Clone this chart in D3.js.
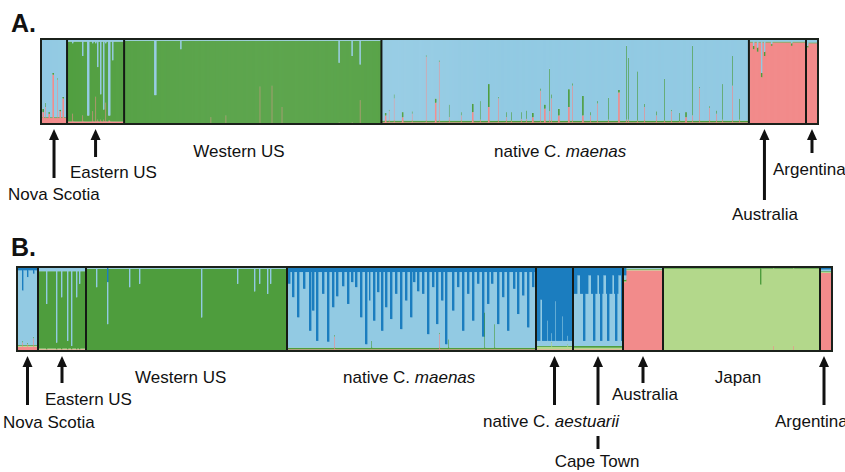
<!DOCTYPE html>
<html>
<head>
<meta charset="utf-8">
<script src="https://cdn.jsdelivr.net/npm/d3@7"></script>
<style>
body { margin: 0; background: #fff; }
svg text { font-family: "Liberation Sans", Arial, sans-serif; fill: #111; }
</style>
</head>
<body>
<div id="chart"></div>
<script>
// ---- Panel A: K = 3, clusters stacked bottom -> top
var clustersA = ["pink", "green", "lblue"];
var groupsA = ["Nova Scotia", "Eastern US", "Western US", "native C. maenas", "Australia", "Argentina"];
var countsA = [26, 57, 257, 367, 57, 12];
var baseA = [
    [0.07, 0.01, 0.92],
    [0.03, 0.94, 0.03],
    [0.01, 0.97, 0.02],
    [0.02, 0.02, 0.96],
    [0.96, 0.01, 0.03],
    [0.95, 0.01, 0.04]
];
// [group, individual, run length, membership]
var spikesA = [
    ["Nova Scotia", 1, 2, [0.14, 0.04, 0.82]],
    ["Nova Scotia", 4, 1, [0.20, 0.05, 0.75]],
    ["Nova Scotia", 7, 2, [0.12, 0.02, 0.86]],
    ["Nova Scotia", 11, 2, [0.58, 0.02, 0.40]],
    ["Nova Scotia", 16, 1, [0.52, 0.02, 0.46]],
    ["Nova Scotia", 18, 2, [0.15, 0.02, 0.83]],
    ["Nova Scotia", 21, 2, [0.30, 0.02, 0.68]],
    ["Eastern US", 5, 1, [0.12, 0.83, 0.05]],
    ["Eastern US", 15, 1, [0.10, 0.70, 0.20]],
    ["Eastern US", 20, 2, [0.03, 0.07, 0.90]],
    ["Eastern US", 25, 1, [0.15, 0.80, 0.05]],
    ["Eastern US", 28, 1, [0.32, 0.63, 0.05]],
    ["Eastern US", 30, 1, [0.05, 0.62, 0.33]],
    ["Eastern US", 33, 1, [0.05, 0.30, 0.65]],
    ["Eastern US", 36, 1, [0.05, 0.12, 0.83]],
    ["Eastern US", 38, 1, [0.25, 0.70, 0.05]],
    ["Eastern US", 41, 2, [0.04, 0.06, 0.90]],
    ["Eastern US", 45, 1, [0.03, 0.72, 0.25]],
    ["Western US", 30, 2, [0.01, 0.33, 0.66]],
    ["Western US", 56, 1, [0.01, 0.87, 0.12]],
    ["Western US", 86, 1, [0.08, 0.90, 0.02]],
    ["Western US", 101, 1, [0.10, 0.88, 0.02]],
    ["Western US", 135, 1, [0.44, 0.54, 0.02]],
    ["Western US", 147, 1, [0.45, 0.53, 0.02]],
    ["Western US", 157, 1, [0.20, 0.78, 0.02]],
    ["Western US", 214, 1, [0.02, 0.70, 0.28]],
    ["Western US", 227, 1, [0.02, 0.78, 0.20]],
    ["Western US", 235, 1, [0.28, 0.42, 0.30]],
    ["native C. maenas", 3, 2, [0.10, 0.03, 0.87]],
    ["native C. maenas", 7, 1, [0.15, 0.02, 0.83]],
    ["native C. maenas", 12, 1, [0.30, 0.05, 0.65]],
    ["native C. maenas", 20, 2, [0.08, 0.06, 0.86]],
    ["native C. maenas", 30, 1, [0.12, 0.03, 0.85]],
    ["native C. maenas", 44, 1, [0.79, 0.02, 0.19]],
    ["native C. maenas", 53, 2, [0.25, 0.05, 0.70]],
    ["native C. maenas", 57, 1, [0.73, 0.02, 0.25]],
    ["native C. maenas", 67, 1, [0.08, 0.15, 0.77]],
    ["native C. maenas", 79, 1, [0.10, 0.04, 0.86]],
    ["native C. maenas", 90, 2, [0.14, 0.10, 0.76]],
    ["native C. maenas", 98, 1, [0.05, 0.22, 0.73]],
    ["native C. maenas", 106, 2, [0.20, 0.27, 0.53]],
    ["native C. maenas", 116, 1, [0.30, 0.02, 0.68]],
    ["native C. maenas", 124, 1, [0.08, 0.06, 0.86]],
    ["native C. maenas", 129, 1, [0.04, 0.10, 0.86]],
    ["native C. maenas", 139, 1, [0.06, 0.08, 0.86]],
    ["native C. maenas", 144, 1, [0.06, 0.10, 0.84]],
    ["native C. maenas", 150, 2, [0.08, 0.05, 0.87]],
    ["native C. maenas", 158, 1, [0.39, 0.03, 0.58]],
    ["native C. maenas", 162, 2, [0.18, 0.05, 0.77]],
    ["native C. maenas", 167, 1, [0.15, 0.50, 0.35]],
    ["native C. maenas", 169, 1, [0.30, 0.05, 0.65]],
    ["native C. maenas", 176, 2, [0.10, 0.08, 0.82]],
    ["native C. maenas", 186, 2, [0.20, 0.21, 0.59]],
    ["native C. maenas", 190, 1, [0.45, 0.03, 0.52]],
    ["native C. maenas", 200, 2, [0.10, 0.23, 0.67]],
    ["native C. maenas", 208, 1, [0.10, 0.04, 0.86]],
    ["native C. maenas", 215, 1, [0.24, 0.03, 0.73]],
    ["native C. maenas", 226, 1, [0.05, 0.26, 0.69]],
    ["native C. maenas", 236, 2, [0.37, 0.03, 0.60]],
    ["native C. maenas", 244, 1, [0.05, 0.87, 0.08]],
    ["native C. maenas", 246, 1, [0.05, 0.73, 0.22]],
    ["native C. maenas", 255, 1, [0.04, 0.58, 0.38]],
    ["native C. maenas", 262, 1, [0.20, 0.04, 0.76]],
    ["native C. maenas", 274, 1, [0.10, 0.05, 0.85]],
    ["native C. maenas", 282, 1, [0.04, 0.49, 0.47]],
    ["native C. maenas", 289, 1, [0.15, 0.02, 0.83]],
    ["native C. maenas", 297, 1, [0.03, 0.10, 0.87]],
    ["native C. maenas", 303, 2, [0.08, 0.06, 0.86]],
    ["native C. maenas", 310, 1, [0.10, 0.82, 0.08]],
    ["native C. maenas", 317, 1, [0.42, 0.02, 0.56]],
    ["native C. maenas", 327, 1, [0.19, 0.02, 0.79]],
    ["native C. maenas", 334, 1, [0.12, 0.04, 0.84]],
    ["native C. maenas", 340, 1, [0.05, 0.42, 0.53]],
    ["native C. maenas", 350, 1, [0.45, 0.35, 0.20]],
    ["native C. maenas", 357, 1, [0.05, 0.25, 0.70]],
    ["Australia", 4, 1, [0.88, 0.04, 0.08]],
    ["Australia", 8, 1, [0.85, 0.05, 0.10]],
    ["Australia", 12, 1, [0.55, 0.05, 0.40]],
    ["Australia", 15, 1, [0.80, 0.05, 0.15]],
    ["Australia", 22, 1, [0.92, 0.02, 0.06]],
    ["Australia", 42, 1, [0.92, 0.03, 0.05]],
    ["Argentina", 1, 1, [0.90, 0.02, 0.08]]
];

// ---- Panel B: K = 5, clusters stacked bottom -> top
var clustersB = ["pink", "lgreen", "green", "lblue", "dblue"];
var groupsB = ["Nova Scotia", "Eastern US", "Western US", "native C. maenas", "native C. aestuarii",
    "Cape Town", "Australia", "Japan", "Argentina"];
var countsB = [21, 48, 201, 249, 37, 50, 40, 157, 12];
var baseB = [
    [0.05, 0.01, 0.01, 0.89, 0.04],
    [0.02, 0.01, 0.92, 0.05, 0.00],
    [0.01, 0.00, 0.97, 0.02, 0.00],
    [0.02, 0.00, 0.02, 0.90, 0.06],
    [0.02, 0.03, 0.01, 0.06, 0.88],
    [0.02, 0.02, 0.02, 0.62, 0.32],
    [0.96, 0.01, 0.01, 0.01, 0.01],
    [0.01, 0.97, 0.01, 0.01, 0.00],
    [0.93, 0.01, 0.01, 0.02, 0.03]
];
// dark-blue depth of the native C. maenas individuals: [individual, run length, share]
var maenasDarkB = [
    [1, 2, 0.20], [5, 2, 0.36], [10, 2, 0.60], [16, 2, 0.26], [22, 2, 0.76], [25, 2, 0.52],
    [29, 2, 0.88], [35, 2, 0.32], [40, 2, 0.89], [45, 2, 0.48], [49, 2, 0.35], [55, 2, 0.23],
    [60, 2, 0.44], [64, 2, 0.18], [68, 2, 0.24], [73, 2, 0.60], [78, 2, 0.92], [82, 1, 0.40],
    [86, 2, 0.64], [90, 2, 0.30], [94, 2, 0.76], [98, 2, 0.48], [103, 2, 0.62], [108, 2, 0.32],
    [113, 2, 0.74], [118, 2, 0.40], [123, 2, 0.60], [126, 2, 0.18], [130, 2, 0.29], [135, 2, 0.32],
    [140, 2, 0.80], [145, 2, 0.24], [149, 2, 0.68], [154, 2, 0.40], [158, 2, 0.92], [165, 2, 0.52],
    [170, 2, 0.24], [175, 2, 0.76], [180, 2, 0.32], [185, 2, 0.64], [190, 2, 0.20], [195, 2, 0.83],
    [200, 2, 0.44], [204, 2, 0.20], [210, 2, 0.68], [215, 2, 0.36], [220, 2, 0.76], [226, 2, 0.26],
    [230, 2, 0.56], [235, 2, 0.34], [240, 2, 0.72], [245, 2, 0.24]
];
var spikesB = [
    ["Nova Scotia", 5, 1, [0.10, 0.00, 0.02, 0.60, 0.28]],
    ["Nova Scotia", 10, 1, [0.08, 0.00, 0.02, 0.78, 0.12]],
    ["Nova Scotia", 16, 1, [0.15, 0.00, 0.02, 0.75, 0.08]],
    ["Eastern US", 8, 1, [0.02, 0.00, 0.54, 0.44, 0.00]],
    ["Eastern US", 18, 1, [0.02, 0.00, 0.08, 0.90, 0.00]],
    ["Eastern US", 23, 1, [0.02, 0.00, 0.62, 0.36, 0.00]],
    ["Eastern US", 29, 1, [0.02, 0.00, 0.10, 0.88, 0.00]],
    ["Eastern US", 33, 1, [0.02, 0.00, 0.04, 0.94, 0.00]],
    ["Eastern US", 38, 1, [0.02, 0.00, 0.62, 0.36, 0.00]],
    ["Eastern US", 41, 1, [0.02, 0.00, 0.78, 0.20, 0.00]],
    ["Western US", 10, 1, [0.01, 0.00, 0.75, 0.24, 0.00]],
    ["Western US", 21, 1, [0.01, 0.00, 0.31, 0.50, 0.18]],
    ["Western US", 43, 1, [0.01, 0.00, 0.75, 0.24, 0.00]],
    ["Western US", 53, 1, [0.01, 0.00, 0.79, 0.20, 0.00]],
    ["Western US", 115, 1, [0.01, 0.00, 0.39, 0.60, 0.00]],
    ["Western US", 151, 1, [0.01, 0.00, 0.79, 0.20, 0.00]],
    ["Western US", 168, 1, [0.01, 0.00, 0.70, 0.29, 0.00]],
    ["Western US", 173, 1, [0.01, 0.00, 0.79, 0.20, 0.00]],
    ["Western US", 181, 1, [0.01, 0.00, 0.67, 0.32, 0.00]],
    ["Western US", 184, 1, [0.01, 0.00, 0.79, 0.20, 0.00]],
    ["native C. maenas", 47, 1, [0.17, 0.00, 0.02, 0.75, 0.06]],
    ["native C. maenas", 84, 1, [0.02, 0.00, 0.10, 0.82, 0.06]],
    ["native C. maenas", 152, 1, [0.20, 0.00, 0.02, 0.72, 0.06]],
    ["native C. maenas", 161, 1, [0.02, 0.00, 0.12, 0.80, 0.06]],
    ["native C. maenas", 197, 1, [0.02, 0.00, 0.44, 0.48, 0.06]],
    ["native C. maenas", 207, 1, [0.02, 0.00, 0.30, 0.62, 0.06]],
    ["native C. aestuarii", 4, 2, [0.02, 0.03, 0.01, 0.55, 0.39]],
    ["native C. aestuarii", 11, 1, [0.02, 0.03, 0.01, 0.30, 0.64]],
    ["native C. aestuarii", 15, 1, [0.02, 0.08, 0.01, 0.10, 0.79]],
    ["native C. aestuarii", 19, 1, [0.02, 0.03, 0.01, 0.53, 0.41]],
    ["native C. aestuarii", 26, 1, [0.02, 0.03, 0.01, 0.35, 0.59]],
    ["native C. aestuarii", 31, 1, [0.02, 0.05, 0.01, 0.10, 0.82]],
    ["Cape Town", 4, 3, [0.02, 0.02, 0.02, 0.84, 0.10]],
    ["Cape Town", 10, 2, [0.02, 0.02, 0.02, 0.06, 0.88]],
    ["Cape Town", 15, 3, [0.02, 0.02, 0.02, 0.84, 0.10]],
    ["Cape Town", 20, 2, [0.02, 0.02, 0.02, 0.06, 0.88]],
    ["Cape Town", 24, 2, [0.02, 0.02, 0.02, 0.84, 0.10]],
    ["Cape Town", 27, 2, [0.02, 0.02, 0.02, 0.06, 0.88]],
    ["Cape Town", 30, 3, [0.02, 0.02, 0.02, 0.84, 0.10]],
    ["Cape Town", 34, 2, [0.02, 0.02, 0.02, 0.06, 0.88]],
    ["Cape Town", 39, 2, [0.02, 0.02, 0.02, 0.84, 0.10]],
    ["Cape Town", 42, 2, [0.02, 0.02, 0.02, 0.06, 0.88]],
    ["Cape Town", 45, 3, [0.02, 0.02, 0.02, 0.84, 0.10]],
    ["Cape Town", 48, 2, [0.02, 0.02, 0.02, 0.06, 0.88]],
    ["Australia", 0, 3, [0.82, 0.01, 0.02, 0.05, 0.10]],
    ["Japan", 97, 1, [0.01, 0.78, 0.20, 0.01, 0.00]],
    ["Japan", 110, 1, [0.06, 0.93, 0.00, 0.01, 0.00]],
    ["Japan", 130, 1, [0.06, 0.93, 0.00, 0.01, 0.00]]
];

var color = {
    pink: "#f28b8b", green: "#4e9d3d", lblue: "#92cae3",
    dblue: "#1b7dbf", lgreen: "#b3d88b"
};

var svg = d3.select("#chart")
    .append("svg")
    .attr("width", 845)
    .attr("height", 472);

var buildRows = function (clusters, groups, counts, base, spikes) {
    var rows = [], offsets = {}, acc = 0;
    groups.forEach(function (g, gi) {
        offsets[g] = acc;
        for (var i = 0; i < counts[gi]; i++) {
            var row = { n: acc + i, group: g };
            clusters.forEach(function (c, ci) { row[c] = base[gi][ci]; });
            rows.push(row);
        }
        acc += counts[gi];
    });
    spikes.forEach(function (s) {
        for (var k = 0; k < s[2]; k++) {
            var row = rows[offsets[s[0]] + s[1] + k];
            clusters.forEach(function (c, ci) { row[c] = s[3][ci]; });
        }
    });
    return { rows: rows, offsets: offsets };
};

var drawPanel = function (p) {
    var built = buildRows(p.clusters, p.groups, p.counts, p.base, p.spikes);
    var rows = built.rows;

    var x = d3.scaleBand().domain(rows.map(function (d) { return d.n; }))
        .range([p.x0, p.x1]).padding(0);
    var y = d3.scaleLinear().domain([0, 1]).range([p.y1, p.y0]);

    var series = d3.stack().keys(p.clusters)(rows);
    var top = p.clusters[p.clusters.length - 1];

    svg.append("clipPath").attr("id", p.id)
        .append("rect")
        .attr("x", p.x0).attr("y", p.y0)
        .attr("width", p.x1 - p.x0).attr("height", p.y1 - p.y0);

    var g = svg.append("g").attr("clip-path", "url(#" + p.id + ")");

    series.forEach(function (layer) {
        g.selectAll(null)
            .data(layer)
            .enter().append("rect")
            .attr("x", function (d) { return x(d.data.n); })
            .attr("width", x.bandwidth() + 0.4)
            .attr("y", function (d) { return layer.key === top ? y(1) : y(d[1]); })
            .attr("height", function (d) {
                return (layer.key === top ? y(d[0]) - y(1) : y(d[0]) - y(d[1]));
            })
            .attr("fill", color[layer.key]);
    });

    // group separators
    p.groups.slice(1).forEach(function (grp) {
        var xs = x(built.offsets[grp]);
        svg.append("line")
            .attr("x1", xs).attr("x2", xs)
            .attr("y1", p.y0).attr("y2", p.y1)
            .attr("stroke", "#151a15").attr("stroke-width", 2);
    });

    svg.append("rect")
        .attr("x", p.x0).attr("y", p.y0)
        .attr("width", p.x1 - p.x0).attr("height", p.y1 - p.y0)
        .attr("fill", "none")
        .attr("stroke", "#1b211b").attr("stroke-width", 2);

    return { x: x, offsets: built.offsets, counts: p.counts, groups: p.groups };
};

var centre = function (panel, grp) {
    var gi = panel.groups.indexOf(grp);
    var a = panel.x(panel.offsets[grp]);
    var b = a + panel.counts[gi] * panel.x.bandwidth();
    return (a + b) / 2;
};

var arrow = function (xa, y0, y1) {
    svg.append("line")
        .attr("x1", xa).attr("x2", xa)
        .attr("y1", y0 + 8).attr("y2", y1)
        .attr("stroke", "#111").attr("stroke-width", 3);
    svg.append("path")
        .attr("d", "M" + xa + "," + y0 + "L" + (xa - 5) + "," + (y0 + 11) + "L" + (xa + 5) + "," + (y0 + 11) + "Z")
        .attr("fill", "#111");
};

var label = function (txt, xl, yl, anchor, italicPart) {
    var t = svg.append("text")
        .attr("x", xl).attr("y", yl)
        .attr("text-anchor", anchor)
        .style("font-size", "17px");
    if (italicPart) {
        t.append("tspan").text(txt);
        t.append("tspan").style("font-style", "italic").text(italicPart);
    } else {
        t.text(txt);
    }
};

// ---- Panel A
var pA = drawPanel({
    id: "clipA", clusters: clustersA, groups: groupsA, counts: countsA,
    base: baseA, spikes: spikesA, x0: 41, x1: 818, y0: 39, y1: 124
});

svg.append("text").attr("x", 11).attr("y", 32)
    .style("font-size", "25px").style("font-weight", "bold").text("A.");

arrow(centre(pA, "Nova Scotia"), 129, 178);
label("Nova Scotia", 8, 200, "start");
arrow(centre(pA, "Eastern US"), 129, 157);
label("Eastern US", 70, 178, "start");
label("Western US", 239, 157, "middle");
label("native C. ", 494, 157, "start", "maenas");
arrow(centre(pA, "Australia") - 13, 129, 200);
label("Australia", 765, 220, "middle");
arrow(centre(pA, "Argentina"), 129, 153);
label("Argentina", 773, 175, "start");

// ---- Panel B
var pB = drawPanel({
    id: "clipB", clusters: clustersB, groups: groupsB, counts: countsB,
    base: baseB,
    spikes: maenasDarkB.map(function (d) {
        return ["native C. maenas", d[0], d[1], [0.02, 0.00, 0.02, 0.96 - d[2], d[2]]];
    }).concat(spikesB),
    x0: 17, x1: 832, y0: 267, y1: 351
});

svg.append("text").attr("x", 11).attr("y", 256)
    .style("font-size", "25px").style("font-weight", "bold").text("B.");

arrow(centre(pB, "Nova Scotia"), 356, 405);
label("Nova Scotia", 3, 428, "start");
arrow(centre(pB, "Eastern US"), 356, 383);
label("Eastern US", 45, 405, "start");
label("Western US", 135, 383, "start");
label("native C. ", 343, 383, "start", "maenas");
arrow(centre(pB, "native C. aestuarii"), 356, 405);
label("native C. ", 483, 427, "start", "aestuarii");
arrow(centre(pB, "Cape Town"), 356, 405);
svg.append("line")
    .attr("x1", centre(pB, "Cape Town")).attr("x2", centre(pB, "Cape Town"))
    .attr("y1", 436).attr("y2", 449)
    .attr("stroke", "#111").attr("stroke-width", 3);
label("Cape Town", 597, 467, "middle");
arrow(centre(pB, "Australia"), 356, 383);
label("Australia", 645, 400, "middle");
label("Japan", 738, 383, "middle");
arrow(centre(pB, "Argentina") - 2, 356, 405);
label("Argentina", 775, 427, "start");
</script>
</body>
</html>
